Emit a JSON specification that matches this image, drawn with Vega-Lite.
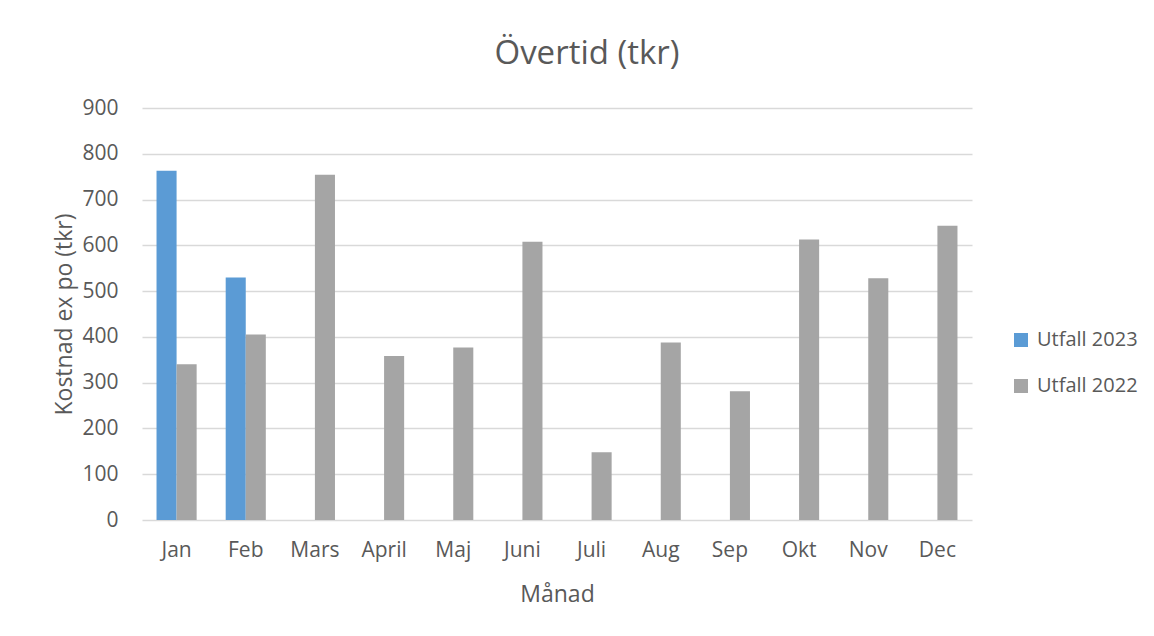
{
  "$schema": "https://vega.github.io/schema/vega-lite/v6.json",
  "autosize": "none",
  "width": 830,
  "height": 412,
  "padding": {"left": 142, "top": 108, "right": 182, "bottom": 116},
  "background": "white",
  "title": {
    "text": "Övertid (tkr)",
    "font": "Open Sans",
    "fontSize": 33,
    "fontWeight": "normal",
    "color": "#595959",
    "anchor": "middle",
    "frame": "group",
    "baseline": "alphabetic",
    "offset": 0,
    "dx": 30
  },
  "data": {
    "values": [
      {"month": "Jan", "series": "Utfall 2023", "value": 763},
      {"month": "Jan", "series": "Utfall 2022", "value": 340},
      {"month": "Feb", "series": "Utfall 2023", "value": 530},
      {"month": "Feb", "series": "Utfall 2022", "value": 405},
      {"month": "Mars", "series": "Utfall 2022", "value": 754},
      {"month": "April", "series": "Utfall 2022", "value": 358},
      {"month": "Maj", "series": "Utfall 2022", "value": 377},
      {"month": "Juni", "series": "Utfall 2022", "value": 608},
      {"month": "Juli", "series": "Utfall 2022", "value": 148},
      {"month": "Aug", "series": "Utfall 2022", "value": 388},
      {"month": "Sep", "series": "Utfall 2022", "value": 281},
      {"month": "Okt", "series": "Utfall 2022", "value": 613},
      {"month": "Nov", "series": "Utfall 2022", "value": 528},
      {"month": "Dec", "series": "Utfall 2022", "value": 643}
    ]
  },
  "mark": {"type": "bar"},
  "encoding": {
    "x": {
      "field": "month",
      "type": "nominal",
      "sort": ["Jan", "Feb", "Mars", "April", "Maj", "Juni", "Juli", "Aug", "Sep", "Okt", "Nov", "Dec"],
      "scale": {"paddingInner": 0.42, "paddingOuter": 0.21},
      "axis": {
        "title": "Månad",
        "labelAngle": 0,
        "labelPadding": 19,
        "titlePadding": 23,
        "ticks": false,
        "domain": false
      }
    },
    "xOffset": {
      "field": "series",
      "type": "nominal",
      "sort": ["Utfall 2023", "Utfall 2022"],
      "scale": {"paddingInner": 0, "paddingOuter": 0}
    },
    "y": {
      "field": "value",
      "type": "quantitative",
      "scale": {"domain": [0, 900]},
      "axis": {
        "title": "Kostnad ex po (tkr)",
        "values": [0, 100, 200, 300, 400, 500, 600, 700, 800, 900],
        "labelPadding": 24,
        "titlePadding": 5,
        "ticks": false,
        "domain": false
      }
    },
    "color": {
      "field": "series",
      "type": "nominal",
      "sort": ["Utfall 2023", "Utfall 2022"],
      "scale": {"domain": ["Utfall 2023", "Utfall 2022"], "range": ["#5b9bd5", "#a5a5a5"]},
      "legend": {
        "title": null,
        "orient": "none",
        "legendX": 869,
        "legendY": 222,
        "symbolType": "square",
        "symbolSize": 196,
        "symbolStrokeWidth": 0,
        "rowPadding": 26,
        "labelOffset": 6
      }
    }
  },
  "config": {
    "font": "Open Sans",
    "view": {"stroke": null},
    "axis": {
      "labelFont": "Open Sans",
      "labelFontSize": 21,
      "labelColor": "#595959",
      "titleFont": "Open Sans",
      "titleFontSize": 23,
      "titleFontWeight": "normal",
      "titleColor": "#595959",
      "gridColor": "#d9d9d9",
      "gridWidth": 1.5
    },
    "axisX": {"grid": false},
    "legend": {
      "labelFont": "Open Sans",
      "labelFontSize": 20,
      "labelColor": "#595959"
    }
  }
}
